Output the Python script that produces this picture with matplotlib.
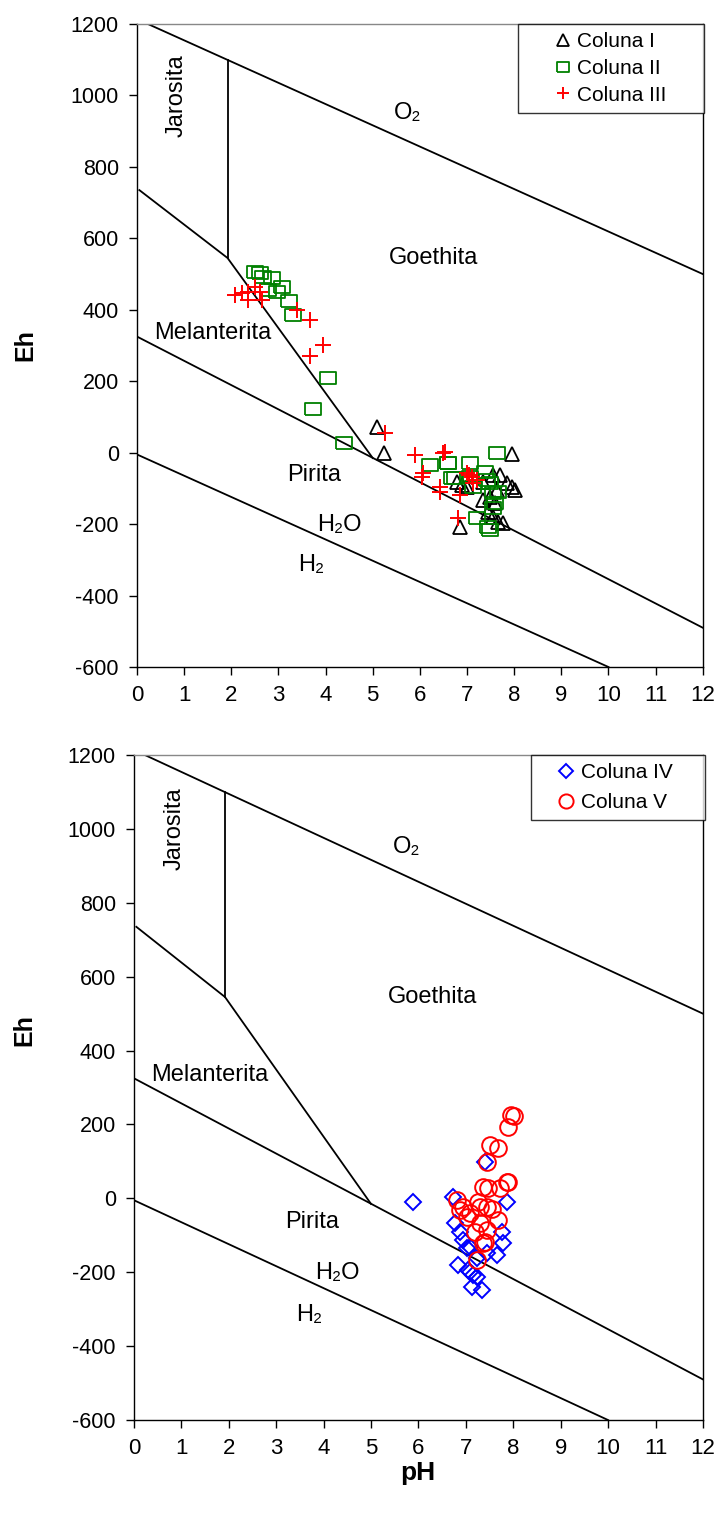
import matplotlib
matplotlib.use("Agg")
import matplotlib.pyplot as plt

plt.rcParams['font.family'] = ['Liberation Sans', 'DejaVu Sans']
plt.rcParams['axes.unicode_minus'] = False

# Eh-pH diagram boundaries (pH, Eh)
o2_line = ([0.23, 12.0], [1200, 500])
h2_line = ([0.0, 10.0], [-5, -600])
jarosita_line = ([1.92, 1.92], [1100, 545])
upper_line = ([0.05, 1.92, 5.0], [735, 545, -15])
melanterita_line = ([0.0, 12.0], [325, -490])

# region labels: text, pH, Eh, rotation
labels = [
    ("O\u2082", 5.75, 950, 0),
    ("Jarosita", 0.85, 1000, 90),
    ("Goethita", 6.3, 545, 0),
    ("Melanterita", 1.6, 335, 0),
    ("Pirita", 3.75, -63, 0),
    ("H\u2082O", 4.3, -203, 0),
    ("H\u2082", 3.7, -315, 0),
]

# Coluna I (triangles)
c1_ph = [5.09, 5.24, 7.95, 7.55, 7.70, 7.84, 7.95, 8.01, 7.34, 6.78, 6.89, 7.48,
         7.34, 7.59, 7.55, 7.65, 6.85, 7.44, 7.76, 7.63, 6.99]
c1_eh = [72, -1, -3, -62, -62, -85, -96, -105, -82, -82, -90, -124,
         -132, -141, -180, -194, -208, -166, -197, -105, -96]

# Coluna II (squares)
c2_ph = [2.50, 2.61, 2.67, 2.86, 3.07, 2.78, 2.97, 3.22, 3.31, 4.05, 3.73, 4.39,
         7.63, 6.59, 7.06, 6.68, 7.06, 7.38, 7.42, 7.12, 7.55, 7.59, 7.55, 7.21,
         7.44, 7.48, 7.48, 7.65, 6.21, 6.59, 6.74]
c2_eh = [506, 503, 492, 489, 464, 455, 450, 425, 385, 209, 122, 27,
         0, -29, -29, -71, -68, -54, -77, -96, -113, -141, -155, -183,
         -208, -217, -85, -110, -35, -29, -71]

# Coluna III (crosses)
c3_ph = [2.08, 2.23, 2.35, 2.50, 2.61, 2.35, 2.65, 3.39, 3.67, 3.94, 3.67, 5.26,
         6.49, 7.10, 7.00, 7.21, 7.12, 6.85, 6.81, 7.05, 5.89, 6.53, 6.06, 6.04,
         6.42, 6.42]
c3_eh = [441, 447, 450, 464, 450, 427, 427, 399, 371, 301, 270, 55,
         0, -68, -57, -77, -85, -118, -183, -62, -7, 2, -57, -68,
         -96, -110]

# Coluna IV (diamonds)
c4_ph = [7.40, 5.88, 6.73, 7.86, 6.77, 6.87, 7.76, 7.78, 7.02, 7.65, 6.83, 7.15,
         7.09, 7.13, 7.34, 7.23, 7.44, 7.04, 7.23, 7.09, 6.95]
c4_eh = [98, -10, 3, -10, -67, -91, -91, -121, -135, -154, -180, -208,
         -200, -240, -248, -162, -148, -194, -213, -132, -113]

# Coluna V (circles)
c5_ph = [7.96, 8.02, 7.89, 7.51, 7.68, 7.44, 7.36, 7.86, 7.72, 6.81, 6.94, 7.30,
         7.44, 7.09, 7.68, 7.30, 7.44, 7.19, 7.36, 7.23, 7.02, 6.87, 7.47, 7.89,
         7.40, 7.55, 7.25]
c5_eh = [225, 222, 193, 144, 136, 98, 30, 45, 28, -5, -24, -24,
         -24, -40, -59, -67, -86, -91, -121, -167, -51, -32, 28, 44,
         -118, -30, -10]

xticks = list(range(0, 13))
yticks = list(range(-600, 1201, 200))

# slightly wide rectangle used by Excel for "square" markers
rect = [(-1, -0.78), (1, -0.78), (1, 0.78), (-1, 0.78), (-1, -0.78)]


def draw_diagram(ax):
    for xs, ys in [o2_line, h2_line, jarosita_line, upper_line, melanterita_line]:
        ax.plot(xs, ys, color='black', lw=1.3, zorder=1)
    for txt, x, y, rot in labels:
        ax.text(x, y, txt, fontsize=17, rotation=rot, ha='center', va='center')
    ax.set_xlim(0, 12)
    ax.set_ylim(-600, 1200)
    ax.set_xticks(xticks)
    ax.set_yticks(yticks)
    ax.tick_params(direction='out', length=6, width=1.0)
    ax.tick_params(axis='x', labelsize=16, pad=7)
    ax.tick_params(axis='y', labelsize=15.5, pad=7)
    ax.set_ylabel('Eh', fontsize=18, fontweight='bold')
    ax.spines['top'].set_color('#888888')
    for s in ax.spines.values():
        s.set_linewidth(1.0)


def make_legend(ax, x0, hlen, tpad, lspace):
    leg = ax.legend(loc='upper left', bbox_to_anchor=(x0, 0.0, 1.003 - x0, 1.0),
                    mode='expand', fontsize=15, frameon=True, fancybox=False,
                    borderaxespad=0, borderpad=0.38, handlelength=hlen,
                    handletextpad=tpad, labelspacing=lspace, markerscale=0.85)
    leg.get_frame().set_edgecolor('black')
    leg.get_frame().set_linewidth(1.0)
    return leg


fig = plt.figure(figsize=(7.18, 15.17), dpi=100)

ax1 = fig.add_axes([0.1908, 0.5603, 0.788, 0.4239])
draw_diagram(ax1)
ax1.plot(c1_ph, c1_eh, linestyle='none', marker='^', ms=10, mfc='none', mec='black',
         mew=1.3, label='Coluna I')
ax1.plot(c2_ph, c2_eh, linestyle='none', marker=rect, ms=11, mfc='none', mec='green',
         mew=1.3, label='Coluna II')
ax1.plot(c3_ph, c3_eh, linestyle='none', marker='+', ms=11, color='red',
         mew=1.4, label='Coluna III')
ax1.yaxis.set_label_coords(-0.176, 0.5)
make_legend(ax1, 0.673, 3.56, -1.1, 0.38)

ax2 = fig.add_axes([0.1866, 0.0639, 0.7924, 0.4384])
draw_diagram(ax2)
ax2.plot(c4_ph, c4_eh, linestyle='none', marker='D', ms=8, mfc='none', mec='blue',
         mew=1.4, label='Coluna IV')
ax2.plot(c5_ph, c5_eh, linestyle='none', marker='o', ms=12, mfc='none', mec='red',
         mew=1.4, label='Coluna V')
ax2.set_xlabel('pH', fontsize=19, fontweight='bold')
ax2.xaxis.set_label_coords(0.499, -0.062)
ax2.yaxis.set_label_coords(-0.172, 0.586)
make_legend(ax2, 0.697, 2.6, -0.58, 0.53)

fig.savefig('out.png', dpi=100)
